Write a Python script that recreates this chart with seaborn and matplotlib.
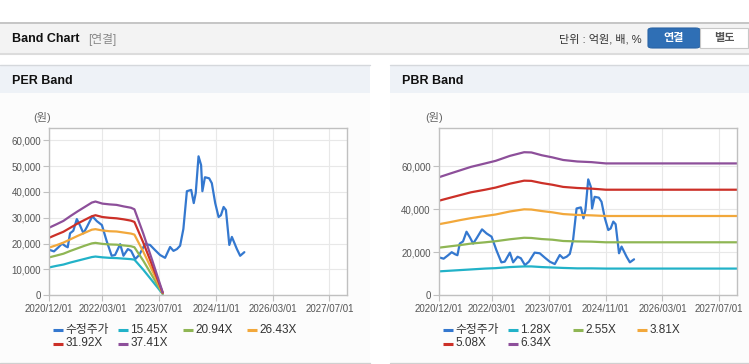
import pandas as pd
import seaborn as sns
import matplotlib.pyplot as plt
from matplotlib.patches import Rectangle, FancyBboxPatch
from matplotlib.lines import Line2D

# ---------------------------------------------------------------
# data
# ---------------------------------------------------------------
price_dates = ["2020-12-08", "2021-01-10", "2021-02-15", "2021-03-20", "2021-04-20",
               "2021-05-08", "2021-05-28", "2021-06-25", "2021-07-25", "2021-08-22",
               "2021-09-20", "2021-10-20", "2021-12-05", "2022-01-13", "2022-02-25",
               "2022-04-07", "2022-05-20", "2022-06-18", "2022-08-01", "2022-08-29",
               "2022-10-06", "2022-11-03", "2022-12-08", "2023-01-11", "2023-03-01",
               "2023-04-14", "2023-05-27", "2023-07-09", "2023-08-21", "2023-10-03",
               "2023-11-01", "2023-12-01", "2023-12-28", "2024-01-25", "2024-02-24",
               "2024-04-01", "2024-04-23", "2024-05-10", "2024-06-03", "2024-06-25",
               "2024-07-06", "2024-07-28", "2024-09-02", "2024-09-25", "2024-10-24",
               "2024-11-22", "2024-12-12", "2025-01-04", "2025-01-24", "2025-02-22",
               "2025-03-16", "2025-04-28", "2025-05-26", "2025-07-01"]
price_values = [17500, 17000, 18500, 20000, 19000,
                18600, 24000, 25000, 29500, 27000,
                24000, 26500, 30600, 28700, 27200,
                21000, 15300, 15600, 19800, 15300,
                17900, 17200, 14000, 15600, 19800,
                19500, 17500, 15600, 14500, 18700,
                17200, 17900, 19200, 25700, 40300,
                40800, 35700, 39600, 53800, 50400,
                40300, 45700, 45300, 43400, 35700,
                30300, 31000, 34200, 33000, 19500,
                22600, 17900, 15300, 16700]

per_dates = ["2020-12-01", "2021-02-01", "2021-04-01", "2021-06-01", "2021-08-01",
             "2021-10-01", "2021-12-01", "2022-01-01", "2022-03-01", "2022-05-01",
             "2022-07-01", "2022-09-01", "2022-11-01", "2022-12-01", "2023-02-15",
             "2023-05-01", "2023-08-01"]
per_1545 = [10800, 11400, 11900, 12700, 13400, 14100, 14800, 15000, 14700, 14500,
            14400, 14200, 14000, 13800, 9900, 5700, 500]
per_2094 = [14700, 15400, 16100, 17200, 18200, 19200, 20100, 20300, 19900, 19700,
            19600, 19300, 19000, 18600, 13400, 7700, 600]
per_2643 = [18500, 19400, 20400, 21700, 23000, 24200, 25400, 25600, 25100, 24800,
            24700, 24300, 23900, 23500, 16900, 9800, 800]
per_3192 = [22300, 23500, 24600, 26200, 27800, 29200, 30600, 31000, 30300, 30000,
            29800, 29400, 28900, 28400, 20400, 11800, 1000]
per_3741 = [26200, 27500, 28800, 30700, 32500, 34200, 35900, 36300, 35500, 35200,
            35000, 34400, 33900, 33300, 23900, 13800, 1100]
per_labels = ["15.45X", "20.94X", "26.43X", "31.92X", "37.41X"]

pbr_dates = ["2020-12-01", "2021-03-01", "2021-06-01", "2021-09-01", "2022-01-01",
             "2022-04-01", "2022-08-01", "2022-12-01", "2023-02-01", "2023-05-01",
             "2023-08-01", "2023-11-01", "2024-03-01", "2024-07-01", "2024-11-01",
             "2027-12-01"]
pbr_128 = [11100, 11400, 11700, 12000, 12400, 12600, 13100, 13400, 13400, 13100,
           12900, 12700, 12500, 12500, 12400, 12400]
pbr_255 = [22100, 22700, 23300, 24000, 24600, 25100, 26000, 26700, 26600, 26100,
           25800, 25200, 25000, 24900, 24600, 24600]
pbr_381 = [33000, 33900, 34900, 35800, 36800, 37500, 38900, 39900, 39800, 39100,
           38500, 37700, 37300, 37100, 36800, 36800]
pbr_508 = [43900, 45200, 46500, 47800, 49000, 50000, 51800, 53200, 53100, 52100,
           51300, 50300, 49800, 49500, 49000, 49000]
pbr_634 = [54800, 56400, 58000, 59600, 61200, 62400, 64700, 66400, 66300, 65000,
           64000, 62800, 62100, 61800, 61200, 61200]
pbr_labels = ["1.28X", "2.55X", "3.81X", "5.08X", "6.34X"]

tick_dates = ["2020-12-01", "2022-03-01", "2023-07-01", "2024-11-01", "2026-03-01", "2027-07-01"]
tick_labels = ["2020/12/01", "2022/03/01", "2023/07/01", "2024/11/01", "2026/03/01", "2027/07/01"]

price_color = "#3478cf"
band_colors = ["#22b2c8", "#8fb654", "#f2a83b", "#cc3028", "#8d4f9a"]

# ---------------------------------------------------------------
# style
# ---------------------------------------------------------------
sns.set_theme(style="whitegrid")
plt.rcParams["font.family"] = ["Liberation Sans", "Noto Sans CJK KR", "DejaVu Sans"]

W, H = 749, 364
fig = plt.figure(figsize=(W / 100, H / 100), dpi=100, facecolor="white")


def fx(x):
    return x / W


def fy(y):
    return 1 - y / H


def box(x0, y0, x1, y1, fc, ec="none", lw=0, z=-5):
    fig.add_artist(Rectangle((fx(x0), fy(y1)), (x1 - x0) / W, (y1 - y0) / H,
                             transform=fig.transFigure, fc=fc, ec=ec, lw=lw, zorder=z))


def hline(x0, x1, y, color, lw=1.0):
    fig.add_artist(Line2D([fx(x0), fx(x1)], [fy(y), fy(y)], transform=fig.transFigure,
                          color=color, lw=lw, zorder=-2))


# top header bar
box(0, 22, W, 53, "#f3f3f3")
hline(0, W, 22.5, "#bdbdbd", 1.2)
hline(0, W, 53.5, "#dcdcdc", 1.5)
fig.text(fx(12), fy(39), "Band Chart", fontsize=9, fontweight="bold", color="#111111", va="center")
fig.text(fx(88), fy(39), "[연결]", fontsize=8.5, color="#888888", va="center")
fig.text(fx(642), fy(39), "단위 : 억원, 배, %", fontsize=8, color="#333333", va="center", ha="right")
fig.add_artist(FancyBboxPatch((fx(648), fy(48)), 52 / W, 20 / H, boxstyle="round,pad=0,rounding_size=0.006",
                              transform=fig.transFigure, fc="#2f6fb5", ec="#2a64a5", lw=0.8, zorder=-1))
fig.text(fx(674), fy(38.5), "연결", fontsize=8, fontweight="bold", color="white", va="center", ha="center")
box(700, 28, 748, 48, "white", ec="#c8c8c8", lw=0.8, z=-1)
fig.text(fx(724), fy(38.5), "별도", fontsize=8, fontweight="bold", color="#555555", va="center", ha="center")

# panels
for px0, px1, title in [(0, 370, "PER Band"), (390, W, "PBR Band")]:
    box(px0, 64.5, px1, 93, "#eef2f7")
    box(px0, 93, px1, 362, "#fcfcfc")
    hline(px0, px1, 64.5, "#d5d8dc", 1.0)
    hline(px0, px1, 362.5, "#d0d0d0", 1.0)
    fig.text(fx(px0 + 12), fy(80.5), title, fontsize=9, fontweight="bold", color="#111111", va="center")


# ---------------------------------------------------------------
# charts
# ---------------------------------------------------------------
def draw_chart(x0, ylim_top, yticks, dates, bands, labels, legend_x, ylabel_x):
    ax = fig.add_axes([fx(x0), fy(295.3), 298 / W, 167 / H])
    ax.set_facecolor("white")
    sns.lineplot(x=pd.to_datetime(price_dates), y=price_values, ax=ax, color=price_color,
                 linewidth=1.6, legend=False)
    for vals, col in zip(bands, band_colors):
        sns.lineplot(x=pd.to_datetime(dates), y=vals, ax=ax, color=col, linewidth=1.6, legend=False)
    ax.set_xlim(pd.Timestamp("2020-12-01"), pd.Timestamp("2027-12-01"))
    ax.set_ylim(0, ylim_top)
    ax.set_xticks(pd.to_datetime(tick_dates))
    ax.set_xticklabels(tick_labels)
    ax.set_yticks(yticks)
    ax.set_yticklabels([f"{v:,}" for v in yticks])
    ax.set_xlabel("")
    ax.set_ylabel("")
    ax.grid(True, color="#e8e8e8", lw=0.8)
    for s in ax.spines.values():
        s.set_color("#c0c0c0")
        s.set_linewidth(1.0)
    ax.tick_params(axis="both", which="major", labelsize=7, labelcolor="#555555",
                   color="#c0c0c0", length=4, width=0.8, pad=2, bottom=True, left=True)
    fig.text(fx(ylabel_x), fy(118), "(원)", fontsize=8, color="#666666", va="center")

    # legend (row-major, like the web chart)
    names = ["수정주가"] + labels
    colors = [price_color] + band_colors
    for i, (name, col) in enumerate(zip(names, colors)):
        row, colno = divmod(i, 4)
        lx = legend_x[colno]
        ly = 330 + row * 13.5
        fig.add_artist(Line2D([fx(lx), fx(lx + 10)], [fy(ly), fy(ly)], transform=fig.transFigure,
                              color=col, lw=2.2, solid_capstyle="butt"))
        fig.text(fx(lx + 12.5), fy(ly), name, fontsize=8.5, color="#333333", va="center")
    return ax


draw_chart(49.3, 64650, [0, 10000, 20000, 30000, 40000, 50000, 60000], per_dates,
           [per_1545, per_2094, per_2643, per_3192, per_3741], per_labels,
           [53, 118, 183, 247], 33)
draw_chart(439, 77500, [0, 20000, 40000, 60000], pbr_dates,
           [pbr_128, pbr_255, pbr_381, pbr_508, pbr_634], pbr_labels,
           [443, 508, 573, 637], 425)

fig.savefig("out.png", dpi=100, facecolor="white")
